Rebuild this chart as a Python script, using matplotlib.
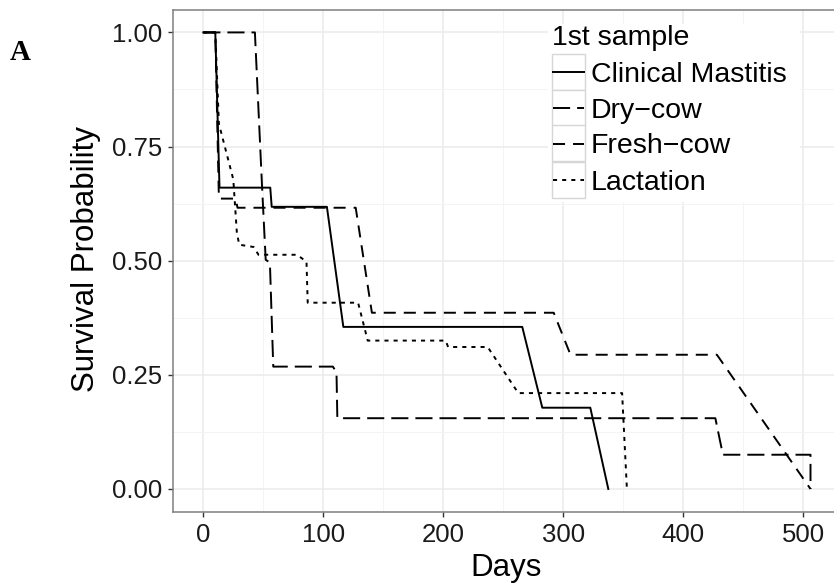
import matplotlib
matplotlib.use("Agg")
import matplotlib.pyplot as plt
from matplotlib.lines import Line2D
from matplotlib.patches import Rectangle
from matplotlib.ticker import MultipleLocator

plt.rcParams['font.family'] = ['Liberation Sans', 'DejaVu Sans']

# Kaplan-Meier curves (days, survival probability)
cm_days = [0, 10, 13.5, 55.8, 57, 103, 116.7, 265.8, 282.5, 322.5, 337.5]
cm_surv = [1, 1, 0.66, 0.66, 0.618, 0.618, 0.355, 0.355, 0.178, 0.178, 0]

dry_days = [0, 43, 49, 52, 55.5, 58.3, 108, 111, 111.7, 426.7, 433, 506, 506]
dry_surv = [1, 1, 0.66, 0.502, 0.496, 0.268, 0.268, 0.255, 0.155, 0.155, 0.075, 0.075, 0]

fresh_days = [0, 10, 13, 27, 28.5, 127, 140.5, 292, 306, 428, 506]
fresh_surv = [1, 1, 0.636, 0.636, 0.616, 0.616, 0.386, 0.386, 0.294, 0.294, 0]

lact_days = [0, 10, 13, 25, 28, 30, 42, 46, 78, 86, 87, 129, 137, 202, 204,
             237, 262.5, 349, 353]
lact_surv = [1, 1, 0.8, 0.678, 0.56, 0.535, 0.53, 0.513, 0.513, 0.498, 0.408,
             0.408, 0.325, 0.325, 0.311, 0.311, 0.21, 0.21, 0]

labels = ["Clinical Mastitis", "Dry\u2212cow", "Fresh\u2212cow", "Lactation"]
x_ticks = [0, 100, 200, 300, 400, 500]
y_ticks = [0.00, 0.25, 0.50, 0.75, 1.00]

W, H = 834, 588
LW = 1.4
styles = [None, (8.8, 3.6), (6.2, 4.1), (2.1, 2.6)]

fig = plt.figure(figsize=(W / 100, H / 100), dpi=100)
ax = fig.add_axes([173 / W, (H - 511.8) / H, 666.6 / W, 502.2 / H])

series = [(cm_days, cm_surv), (dry_days, dry_surv),
          (fresh_days, fresh_surv), (lact_days, lact_surv)]
for (d, s), st in zip(series, styles):
    line, = ax.plot(d, s, color='black', lw=LW, zorder=3)
    if st is not None:
        line.set_dashes(st)

ax.set_xlim(-25.25, 530.25)
ax.set_ylim(-0.05, 1.05)
ax.set_xticks(x_ticks)
ax.set_yticks(y_ticks)
ax.set_yticklabels(["%.2f" % v for v in y_ticks])
ax.xaxis.set_minor_locator(MultipleLocator(50))
ax.yaxis.set_minor_locator(MultipleLocator(0.125))
ax.grid(which='major', color='#ebebeb', lw=1.1)
ax.grid(which='minor', color='#f4f4f4', lw=0.7)
ax.set_axisbelow(True)
ax.tick_params(which='major', length=3.8, width=1.0, color='#333333',
               labelsize=18.5, pad=4, labelcolor='#1a1a1a')
ax.tick_params(which='minor', length=0)
for sp in ax.spines.values():
    sp.set_color('#7f7f7f')
    sp.set_linewidth(1.1)


def fx(px):
    return px / W


def fy(py):
    return 1 - py / H


# axis titles and panel letter
fig.text(fx(506), fy(576), "Days", ha='center', va='baseline', fontsize=22.5)
fig.text(fx(86), fy(259), "Survival Probability", ha='center', va='center',
         rotation=90, fontsize=22.5)
fig.text(fx(10), fy(60), "A", ha='left', va='baseline', fontsize=21,
         family='Liberation Serif', weight='bold')

# legend
fig.patches.append(Rectangle((fx(548), fy(202)), (800 - 548) / W, 178 / H,
                             transform=fig.transFigure, facecolor='white',
                             edgecolor='none', zorder=5))
fig.text(fx(552), fy(45), "1st sample", ha='left', va='baseline',
         fontsize=20.5, zorder=6)
row_top = 53.5
row_h = 36
for i, (lab, st) in enumerate(zip(labels, styles)):
    top = row_top + i * row_h
    fig.patches.append(Rectangle((fx(552), fy(top + row_h)), 33 / W, row_h / H,
                                 transform=fig.transFigure, facecolor='white',
                                 edgecolor='#d6d6d6', lw=1.0, zorder=6))
    key = Line2D([fx(553), fx(584)], [fy(top + row_h / 2)] * 2,
                 transform=fig.transFigure, color='black', lw=LW, zorder=7)
    if st is not None:
        key.set_dashes(st)
    fig.lines.append(key)
    fig.text(fx(591), fy(top + row_h / 2 + 10), lab, ha='left', va='baseline',
             fontsize=20.5, zorder=7)

fig.savefig("out.png", dpi=100)
